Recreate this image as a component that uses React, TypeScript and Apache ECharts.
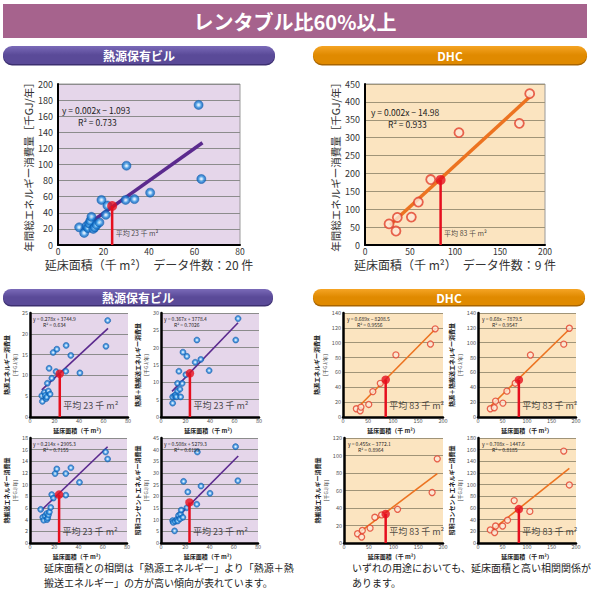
import React, { useEffect, useRef } from 'react';
import * as echarts from 'echarts';

const FONT = '"Noto Sans CJK JP", "Noto Sans", sans-serif';

// ---- 熱源保有ビル (top, 年間総エネルギー消費量) ----
const bldgTotalX = [9.3, 11.5, 12.5, 13.2, 13.7, 14.2, 14.7, 15.5, 16.2, 17.0, 18.2, 19.1, 21.0, 21.7, 29.7, 30.1, 33.6, 40.5, 61.8, 63.0];
const bldgTotalY = [22, 15, 23.5, 21, 26.7, 30, 35, 20, 22, 25, 28, 56, 37.5, 49, 56, 98.5, 57, 65, 174, 82];
const bldgTotalTrend = [[10, 19.5], [63.5, 127]];
const bldgTotalAvg = [23.8, 48.5];

// ---- DHC (top, 年間総エネルギー消費量) ----
const dhcTotalX = [26.7, 34.4, 35.9, 51.5, 59.3, 73, 104.4, 171.5, 183];
const dhcTotalY = [59, 39, 77, 78, 120, 183, 314, 340, 423];
const dhcTotalTrend = [[27.8, 56], [184.4, 417]];
const dhcTotalAvg = [84, 182];

// ---- 熱源保有ビル small charts ----
const b1X = [9.6, 10.1, 11.7, 12.3, 13.1, 13.7, 14.2, 15, 15.6, 16.4, 17.8, 18.9, 21.3, 21.9, 29.2, 29.5, 33.3, 40.7, 62, 63.4];
const b1Y = [5.1, 3.75, 5.9, 5.2, 4.4, 4.8, 8.1, 6.25, 11.7, 5.5, 9.3, 15.5, 10.9, 16.3, 11, 17.2, 14.8, 10.6, 17, 23.2];
const b1Trend = [[9.6, 6.5], [63.7, 21.3]];
const b1Avg = [24.3, 10.4];

const b2X = [9.5, 9.5, 11.1, 11.9, 12.5, 13.5, 13.5, 14.6, 15.4, 16, 17.3, 17.9, 20.3, 21.1, 27.9, 29.3, 32.5, 39.3, 61, 62.9];
const b2Y = [4, 5.8, 6.1, 6.4, 5.8, 7.5, 9.7, 13.2, 8.0, 5.8, 9.7, 18.7, 12.2, 17.5, 15.8, 22.2, 16.6, 13.4, 22.2, 28.4];
const b2Trend = [[9, 7.4], [62.9, 27.2]];
const b2Avg = [23.6, 12.6];

const b3X = [8.8, 10.5, 11.3, 12.4, 13.8, 14, 14.6, 15.2, 16, 17.1, 17.9, 19.3, 20.7, 22.1, 29.5, 29.5, 33.7, 40.8, 62.3, 64];
const b3Y = [5.76, 4.4, 3.9, 4.66, 5.05, 4.0, 4.3, 4.8, 5.3, 6.1, 8.3, 7.7, 11.9, 12.7, 8.2, 11.9, 12.9, 10.4, 15.6, 14.4];
const b3Trend = [[8.8, 5.5], [64, 16.5]];
const b3Avg = [24, 8.3];

const b4X = [9.6, 10.1, 11.2, 11.7, 13.1, 13.7, 14.5, 15.6, 16.1, 16.7, 18, 18.6, 21.3, 22.1, 29.5, 30, 33, 40.4, 61.5, 63.4];
const b4Y = [9.6, 8.8, 5.2, 9.3, 10.1, 9.4, 11.8, 10.3, 12.4, 14.1, 11, 26.4, 15.1, 21.9, 16.6, 39, 24.4, 21.3, 41.3, 26.7];
const b4Trend = [[11.2, 9.8], [63.7, 37.3]];
const b4Avg = [23.5, 17.4];

// ---- DHC small charts ----
const d1X = [26.7, 34.4, 35.9, 51.5, 59.7, 74.6, 105.8, 174.9, 184.4];
const d1Y = [11.1, 8.4, 13.3, 16.9, 34.2, 45.3, 83.6, 98.2, 118.7];
const d1Trend = [[29.2, 12.4], [185.8, 119.1]];
const d1Avg = [85.4, 50.2];

const d2X = [25.1, 33.2, 35.9, 50.8, 59, 75.9, 107, 175, 186.4];
const d2Y = [11.1, 12.5, 21.4, 18.7, 34.8, 45.5, 83.4, 98.1, 119.5];
const d2Trend = [[26.4, 15.2], [186.4, 118.1]];
const d2Avg = [83.4, 49.9];

const d3X = [27.4, 35.6, 37, 52.7, 62.3, 76, 108.2, 178, 188.4];
const d3Y = [10.6, 6.8, 14.3, 17, 29.4, 32.1, 38.5, 57.7, 96.2];
const d3Trend = [[27.4, 10.6], [188.4, 79.2]];
const d3Avg = [84.2, 33.2];

const d4X = [25.1, 33.9, 35.9, 50.2, 60.3, 73.9, 105.8, 175, 186.4];
const d4Y = [22.4, 17.9, 29.1, 29.1, 39.1, 72.7, 54.2, 157.6, 99.5];
const d4Trend = [[26.4, 20.7], [186.4, 128]];
const d4Avg = [83.4, 58.1];

type Cfg = {
  left: number; top: number; width: number; height: number;
  xMax: number; xInt: number; yMax: number; yInt: number;
  xs: number[]; ys: number[]; trend: number[][]; avg: number[]; avgText: string;
  eq: string; r2: string; eqDx: number; eqDy: number; r2Dx: number;
  theme: 'p' | 'o'; big: boolean; yName: string; xName: string;
};

const smallUnit = '［千GJ/年］';

const charts: Cfg[] = [
  { left: 58, top: 84, width: 182, height: 161, xMax: 80, xInt: 20, yMax: 200, yInt: 20,
    xs: bldgTotalX, ys: bldgTotalY, trend: bldgTotalTrend, avg: bldgTotalAvg, avgText: '平均 23 千 m²',
    eq: 'y = 0.002x − 1.093', r2: 'R² = 0.733', eqDx: 4, eqDy: 26, r2Dx: 20,
    theme: 'p', big: true, yName: '年間総エネルギー消費量［千GJ/年］', xName: '延床面積（千 m²）　データ件数：20 件' },
  { left: 365, top: 84, width: 180, height: 161, xMax: 200, xInt: 50, yMax: 450, yInt: 50,
    xs: dhcTotalX, ys: dhcTotalY, trend: dhcTotalTrend, avg: dhcTotalAvg, avgText: '平均 83 千 m²',
    eq: 'y = 0.002x − 14.98', r2: 'R² = 0.933', eqDx: 6, eqDy: 28, r2Dx: 23,
    theme: 'o', big: true, yName: '年間総エネルギー消費量［千GJ/年］', xName: '延床面積（千 m²）　データ件数：9 件' },
  { left: 30, top: 313, width: 98, height: 104, xMax: 80, xInt: 20, yMax: 25, yInt: 5,
    xs: b1X, ys: b1Y, trend: b1Trend, avg: b1Avg, avgText: '平均 23 千 m²',
    eq: 'y = 0.278x + 3744.9', r2: 'R² = 0.634', eqDx: 3, eqDy: 5, r2Dx: 13,
    theme: 'p', big: false, yName: '熱源エネルギー消費量', xName: '延床面積（千 m²）' },
  { left: 161, top: 313, width: 98, height: 104, xMax: 80, xInt: 20, yMax: 30, yInt: 5,
    xs: b2X, ys: b2Y, trend: b2Trend, avg: b2Avg, avgText: '平均 23 千 m²',
    eq: 'y = 0.367x + 3778.4', r2: 'R² = 0.7026', eqDx: 3, eqDy: 5, r2Dx: 13,
    theme: 'p', big: false, yName: '熱源＋熱搬送エネルギー消費量', xName: '延床面積（千 m²）' },
  { left: 30, top: 438, width: 97, height: 105, xMax: 80, xInt: 20, yMax: 18, yInt: 2,
    xs: b3X, ys: b3Y, trend: b3Trend, avg: b3Avg, avgText: '平均 23 千 m²',
    eq: 'y = 0.214x + 2905.3', r2: 'R² = 0.7155', eqDx: 3, eqDy: 5, r2Dx: 13,
    theme: 'p', big: false, yName: '熱搬送エネルギー消費量', xName: '延床面積（千 m²）' },
  { left: 161, top: 438, width: 97, height: 105, xMax: 80, xInt: 20, yMax: 45, yInt: 5,
    xs: b4X, ys: b4Y, trend: b4Trend, avg: b4Avg, avgText: '平均 23 千 m²',
    eq: 'y = 0.508x + 5279.3', r2: 'R² = 0.6199', eqDx: 3, eqDy: 5, r2Dx: 13,
    theme: 'p', big: false, yName: '照明コンセントエネルギー消費量', xName: '延床面積（千 m²）' },
  { left: 343, top: 313, width: 100, height: 104, xMax: 200, xInt: 50, yMax: 140, yInt: 20,
    xs: d1X, ys: d1Y, trend: d1Trend, avg: d1Avg, avgText: '平均 83 千 m²',
    eq: 'y = 0.689x − 8208.5', r2: 'R² = 0.9556', eqDx: 4, eqDy: 5, r2Dx: 14,
    theme: 'o', big: false, yName: '熱源エネルギー消費量', xName: '延床面積（千 m²）' },
  { left: 478, top: 313, width: 98, height: 104, xMax: 200, xInt: 50, yMax: 140, yInt: 20,
    xs: d2X, ys: d2Y, trend: d2Trend, avg: d2Avg, avgText: '平均 83 千 m²',
    eq: 'y = 0.68x − 7879.5', r2: 'R² = 0.9547', eqDx: 4, eqDy: 5, r2Dx: 14,
    theme: 'o', big: false, yName: '熱源＋熱搬送エネルギー消費量', xName: '延床面積（千 m²）' },
  { left: 344, top: 438, width: 99, height: 105, xMax: 200, xInt: 50, yMax: 120, yInt: 20,
    xs: d3X, ys: d3Y, trend: d3Trend, avg: d3Avg, avgText: '平均 83 千 m²',
    eq: 'y = 0.455x − 3772.1', r2: 'R² = 0.8964', eqDx: 4, eqDy: 5, r2Dx: 14,
    theme: 'o', big: false, yName: '熱搬送エネルギー消費量', xName: '延床面積（千 m²）' },
  { left: 478, top: 438, width: 98, height: 105, xMax: 200, xInt: 50, yMax: 180, yInt: 20,
    xs: d4X, ys: d4Y, trend: d4Trend, avg: d4Avg, avgText: '平均 83 千 m²',
    eq: 'y = 0.708x − 1447.6', r2: 'R² = 0.8185', eqDx: 4, eqDy: 5, r2Dx: 14,
    theme: 'o', big: false, yName: '照明コンセントエネルギー消費量', xName: '延床面積（千 m²）' },
];

const blueDot = {
  type: 'radial', x: 0.5, y: 0.5, r: 0.5,
  colorStops: [
    { offset: 0, color: '#ffffff' },
    { offset: 0.28, color: '#a8dcff' },
    { offset: 0.6, color: '#2b8fe0' },
    { offset: 1, color: '#0a5cb5' },
  ],
};

function buildOption() {
  const grid: any[] = [];
  const xAxis: any[] = [];
  const yAxis: any[] = [];
  const series: any[] = [];
  const graphic: any[] = [];

  // Title bar
  graphic.push({ type: 'rect', shape: { x: 3, y: 4, width: 584, height: 34 }, style: { fill: '#a6638d' }, z: 10 });
  graphic.push({ type: 'text', x: 295, y: 21, style: { text: 'レンタブル比60%以上', fill: '#fff', font: `bold 20px ${FONT}`, align: 'center', verticalAlign: 'middle' }, z: 11 });

  const pill = (x: number, y: number, w: number, h: number, kind: 'p' | 'o', text: string) => {
    const c = kind === 'p'
      ? ['#7a6ab8', '#5a4a98', '#3c2f70']
      : ['#f5a424', '#e08a00', '#a86400'];
    graphic.push({ type: 'rect', shape: { x, y: y + 1.5, width: w, height: h, r: h / 2 }, style: { fill: c[2] }, z: 10 });
    graphic.push({
      type: 'rect', shape: { x, y, width: w, height: h, r: h / 2 },
      style: { fill: { type: 'linear', x: 0, y: 0, x2: 0, y2: 1, colorStops: [{ offset: 0, color: c[0] }, { offset: 0.5, color: c[1] }, { offset: 1, color: c[1] }] } }, z: 11,
    });
    graphic.push({ type: 'text', x: x + w / 2, y: y + h / 2, style: { text, fill: '#fff', font: `bold 12px ${FONT}`, align: 'center', verticalAlign: 'middle' }, z: 12 });
  };
  pill(3, 46, 272, 18, 'p', '熱源保有ビル');
  pill(313, 46, 274, 18, 'o', 'DHC');
  pill(3, 289, 270, 16, 'p', '熱源保有ビル');
  pill(313, 289, 272, 16, 'o', 'DHC');

  charts.forEach((c, i) => {
    const purple = c.theme === 'p';
    grid.push({
      left: c.left, top: c.top, width: c.width, height: c.height,
      show: true, backgroundColor: purple ? '#e5d6ea' : '#fbe4c0',
      borderColor: c.big ? '#9a9a9a' : 'transparent', borderWidth: c.big ? 1 : 0,
    });
    const yLabel = { fontSize: c.big ? 9 : 5.5, color: c.big ? '#333' : '#555', fontFamily: FONT, margin: c.big ? 5 : 2 };
    const xLabel = { fontSize: c.big ? 8.5 : 5.5, color: c.big ? '#333' : '#555', fontFamily: FONT, margin: 1.5 };
    xAxis.push({
      type: 'value', gridIndex: i, min: 0, max: c.xMax, interval: c.xInt,
      axisLine: { show: true, onZero: false, lineStyle: { color: '#000', width: c.big ? 2 : 2.5 } },
      axisTick: { show: false }, splitLine: { show: false }, axisLabel: xLabel,
      name: c.xName, nameLocation: 'middle', nameGap: c.big ? 13.5 : 10,
      nameTextStyle: { fontSize: c.big ? 12 : 6, color: c.big ? '#333' : '#222', fontFamily: FONT, fontWeight: c.big ? 'normal' : 'bold' },
    });
    yAxis.push({
      type: 'value', gridIndex: i, min: 0, max: c.yMax, interval: c.yInt,
      axisLine: { show: true, onZero: false, lineStyle: { color: '#000', width: c.big ? 2 : 2.5 } },
      axisTick: { show: false },
      splitLine: { show: true, lineStyle: { color: purple ? '#8c8c8c' : '#a09478', width: 1 } },
      axisLabel: yLabel,
      name: c.big ? c.yName : `{a|${c.yName}}\n{b|${smallUnit}}`,
      nameLocation: 'middle', nameRotate: 90, nameGap: c.big ? 20 : 8,
      nameTextStyle: c.big
        ? { fontSize: 10.5, color: '#333', fontFamily: FONT }
        : {
          fontFamily: FONT, color: '#222', lineHeight: 7,
          rich: {
            a: { fontSize: 6, fontWeight: 'bold', color: '#222', fontFamily: FONT, lineHeight: 8 },
            b: { fontSize: 5, color: '#444', fontFamily: FONT, lineHeight: 7 },
          },
        },
    });

    const trendColor = purple ? '#5b2a8e' : '#ec7321';
    series.push({
      type: 'line', xAxisIndex: i, yAxisIndex: i, data: c.trend, showSymbol: false, silent: true,
      lineStyle: { color: trendColor, width: c.big ? 3.5 : 1.6 }, z: 2,
    });
    series.push({
      type: 'scatter', xAxisIndex: i, yAxisIndex: i,
      data: c.xs.map((x, j) => [x, c.ys[j]]),
      symbolSize: c.big ? 9 : 6,
      itemStyle: purple
        ? { color: blueDot as any, borderColor: '#0a5fae', borderWidth: 0.6 }
        : { color: '#fde7d6', borderColor: '#e2402c', borderWidth: c.big ? 1.8 : 1.3 },
      z: 3,
    });
    series.push({
      type: 'line', xAxisIndex: i, yAxisIndex: i, data: [[c.avg[0], 0], [c.avg[0], c.avg[1]]],
      showSymbol: false, silent: true, lineStyle: { color: '#e60f1e', width: 2.5 }, z: 4,
    });
    series.push({
      type: 'scatter', xAxisIndex: i, yAxisIndex: i, data: [c.avg],
      symbolSize: c.big ? 10 : 8.5, itemStyle: { color: '#e60f1e' }, z: 5,
    });
    series.push({
      type: 'scatter', xAxisIndex: i, yAxisIndex: i, data: [[c.avg[0], 0]],
      symbolSize: 1, itemStyle: { color: 'rgba(0,0,0,0)' }, silent: true, z: 6,
      label: {
        show: true, formatter: c.avgText, position: 'right', distance: 3,
        offset: [0, -12],
        fontSize: c.big ? 7 : 9, color: '#222', fontFamily: FONT,
      },
    });

    const eqFont = c.big ? 8.5 : 5;
    graphic.push({ type: 'text', x: c.left + c.eqDx, y: c.top + c.eqDy, style: { text: c.eq, fill: '#222', font: `${eqFont}px ${FONT}`, verticalAlign: 'middle' }, z: 12 });
    graphic.push({ type: 'text', x: c.left + c.r2Dx, y: c.top + c.eqDy + (c.big ? 12 : 6.5), style: { text: c.r2, fill: '#222', font: `${eqFont}px ${FONT}`, verticalAlign: 'middle' }, z: 12 });
  });

  // Bottom notes
  const note = (x: number, y: number, text: string) =>
    graphic.push({ type: 'text', x, y, style: { text, fill: '#222', font: `10px ${FONT}`, verticalAlign: 'middle' }, z: 12 });
  note(44, 567, '延床面積との相関は「熱源エネルギー」より「熱源＋熱');
  note(44, 582, '搬送エネルギー」の方が高い傾向が表れています。');
  note(352, 567, 'いずれの用途においても、延床面積と高い相関関係が');
  note(352, 582, 'あります。');

  return {
    animation: false,
    backgroundColor: '#ffffff',
    textStyle: { fontFamily: FONT },
    grid, xAxis, yAxis, series, graphic,
  };
}

export default function App() {
  const ref = useRef<HTMLDivElement>(null);
  useEffect(() => {
    if (!ref.current) return;
    const chart = echarts.init(ref.current, undefined, { renderer: 'svg' });
    chart.setOption(buildOption() as any);
    return () => chart.dispose();
  }, []);
  return <div ref={ref} style={{ position: 'fixed', left: 0, top: 0, width: 591, height: 589 }} />;
}
